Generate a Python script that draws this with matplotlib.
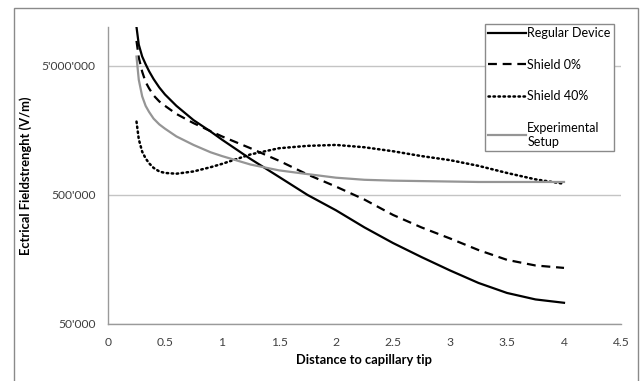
import matplotlib
matplotlib.use('Agg')
import matplotlib.pyplot as plt
from matplotlib.ticker import FixedLocator, NullLocator
from matplotlib.patches import Rectangle

plt.rcParams['font.family'] = ['Lato', 'DejaVu Sans']

# distance to capillary tip (shared x grid)
distance = [0.25, 0.27, 0.3, 0.33, 0.36, 0.4, 0.45, 0.5, 0.6, 0.75, 0.9, 1.0, 1.25, 1.5,
            1.75, 2.0, 2.25, 2.5, 2.75, 3.0, 3.25, 3.5, 3.75, 4.0]

regular = [1.0e7, 7.3e6, 5.9e6, 5.15e6, 4.55e6, 3.95e6, 3.4e6, 3.0e6, 2.45e6, 1.9e6,
           1.55e6, 1.34e6, 9.5e5, 6.9e5, 5.0e5, 3.8e5, 2.8e5, 2.12e5, 1.65e5, 1.3e5,
           1.04e5, 8.7e4, 7.75e4, 7.3e4]
shield0 = [7.8e6, 5.8e6, 4.5e6, 3.75e6, 3.35e6, 2.95e6, 2.65e6, 2.45e6, 2.12e6, 1.8e6,
           1.56e6, 1.42e6, 1.15e6, 9.2e5, 7.2e5, 5.8e5, 4.6e5, 3.5e5, 2.8e5, 2.3e5,
           1.87e5, 1.57e5, 1.42e5, 1.36e5]
shield40 = [1.85e6, 1.35e6, 1.08e6, 9.6e5, 8.8e5, 8.1e5, 7.6e5, 7.4e5, 7.3e5, 7.6e5,
            8.2e5, 8.7e5, 1.03e6, 1.15e6, 1.2e6, 1.22e6, 1.17e6, 1.09e6, 1.0e6, 9.3e5,
            8.4e5, 7.4e5, 6.6e5, 6.1e5]
experimental = [5.9e6, 3.9e6, 2.9e6, 2.45e6, 2.2e6, 1.95e6, 1.76e6, 1.63e6, 1.42e6, 1.22e6,
                1.07e6, 1.0e6, 8.6e5, 7.75e5, 7.25e5, 6.8e5, 6.55e5, 6.45e5, 6.4e5, 6.35e5,
                6.3e5, 6.3e5, 6.3e5, 6.3e5]

y_ticks = [50000, 500000, 5000000]
y_tick_labels = ["50'000", "500'000", "5'000'000"]
x_ticks = [0, 0.5, 1, 1.5, 2, 2.5, 3, 3.5, 4, 4.5]
x_tick_labels = ['0', '0.5', '1', '1.5', '2', '2.5', '3', '3.5', '4', '4.5']

fig = plt.figure(figsize=(6.43, 3.81), dpi=100)
ax = fig.add_axes([108/643, 1 - 324/381, 513/643, 297/381])

# outer chart frame
fig.patches.append(Rectangle((14/643, -0.05), 624/643, 1.05 - 8/381,
                             transform=fig.transFigure, fill=False,
                             edgecolor='#8a8a8a', lw=1.0))

ax.plot(distance, regular, color='black', lw=1.6, label='Regular Device', zorder=3)
ax.plot(distance, shield0, color='black', lw=1.6, ls=(0, (4, 2.6)), label='Shield 0%', zorder=3)
ax.plot(distance, shield40, color='black', lw=1.8, ls=(0, (0.6, 1.4)),
        dash_capstyle='round', label='Shield 40%', zorder=3)
ax.plot(distance, experimental, color='#959595', lw=1.6, label='Experimental\nSetup', zorder=3)

ax.set_yscale('log')
ax.set_ylim(5e4, 1e7)
ax.set_xlim(0, 4.5)
ax.yaxis.set_major_locator(FixedLocator(y_ticks))
ax.yaxis.set_minor_locator(NullLocator())
ax.set_yticklabels(y_tick_labels)
ax.set_xticks(x_ticks)
ax.set_xticklabels(x_tick_labels)
ax.tick_params(axis='both', length=0, labelsize=8.7, colors='#404040')
ax.tick_params(axis='y', pad=9)
ax.tick_params(axis='x', pad=9)

ax.grid(axis='y', color='#c4c4c4', lw=1.0)
ax.set_axisbelow(True)
for s in ['top', 'right']:
    ax.spines[s].set_visible(False)
for s in ['left', 'bottom']:
    ax.spines[s].set_color('#9a9a9a')
    ax.spines[s].set_linewidth(1.0)

ax.set_xlabel('Distance to capillary tip', fontsize=9.3, fontweight='bold', labelpad=5)
ax.set_ylabel('Ectrical Fieldstrenght (V/m)', fontsize=9.3, fontweight='bold', labelpad=7)

leg = ax.legend(loc='upper right', bbox_to_anchor=(0.998, 1.03), fontsize=9,
                handlelength=3.0, handletextpad=0.1, labelspacing=1.55,
                borderpad=0.25, fancybox=False, framealpha=1, edgecolor='#8a8a8a')
leg.get_frame().set_linewidth(1.0)

fig.savefig('out.png', dpi=100)
